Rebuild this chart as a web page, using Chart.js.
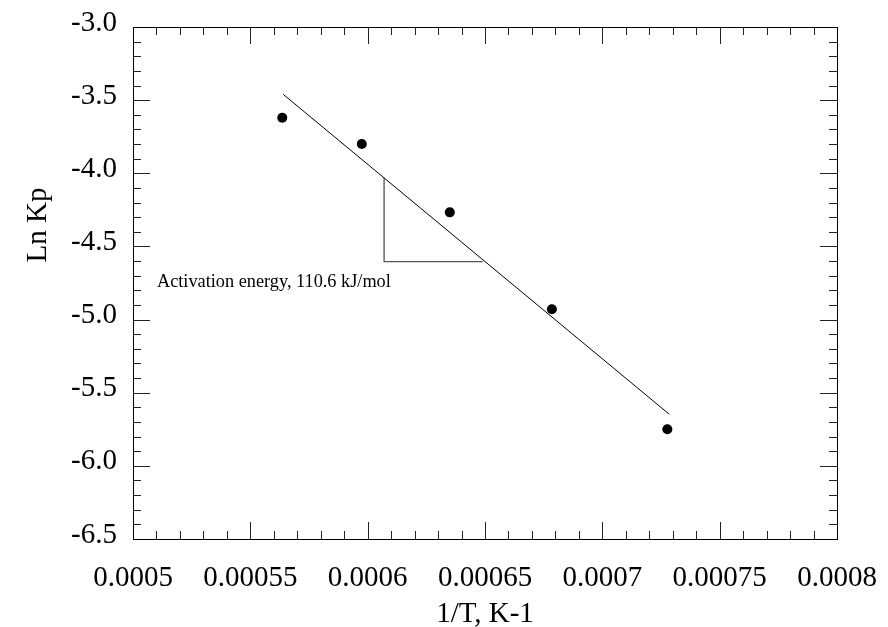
<!DOCTYPE html>
<html>
<head>
<meta charset="utf-8">
<script src="https://cdn.jsdelivr.net/npm/chart.js@4.4.1/dist/chart.umd.min.js"></script>
<style>
  html, body { margin: 0; padding: 0; background: #fff; }
  #wrap { width: 888px; height: 627px; }
</style>
</head>
<body>
<div id="wrap"><canvas id="chart" width="888" height="627"></canvas></div>
<script>
// axis ticks
const xTicks = [0.0005, 0.00055, 0.0006, 0.00065, 0.0007, 0.00075, 0.0008];
const xTickLabels = ['0.0005', '0.00055', '0.0006', '0.00065', '0.0007', '0.00075', '0.0008'];
const yTicks = [-3.0, -3.5, -4.0, -4.5, -5.0, -5.5, -6.0, -6.5];
const yTickLabels = ['-3.0', '-3.5', '-4.0', '-4.5', '-5.0', '-5.5', '-6.0', '-6.5'];

// measured points
const invT = [0.0005636, 0.0005975, 0.000635, 0.0006785, 0.0007277];
const lnKp = [-3.62, -3.80, -4.267, -4.93, -5.75];

// fitted line ends
const fitX = [0.000564, 0.0007285];
const fitY = [-3.46, -5.647];

// slope triangle
const triX = [0.000607, 0.000607, 0.000649];
const triY = [-4.03, -4.604, -4.604];

const noteText = 'Activation energy, 110.6 kJ/mol';
const noteX = 0.0005102;
const noteY = -4.743;

const xTitle = '1/T, K-1';
const yTitle = 'Ln Kp';

const serif = "'Liberation Serif', 'Times New Roman', serif";

const toPts = (xs, ys) => xs.map((x, i) => ({ x: x, y: ys[i] }));

// inward ticks on all four sides, frame, titles and note
const framePlugin = {
    id: 'frame',
    afterDraw(chart) {
        const ctx = chart.ctx;
        const a = chart.chartArea;
        const xs = chart.scales.x;
        const ys = chart.scales.y;
        ctx.save();
        ctx.strokeStyle = '#222';
        ctx.lineWidth = 1;
        ctx.beginPath();
        for (let i = 0; i <= 30; i++) {
            const px = Math.round(xs.getPixelForValue(0.0005 + i * 0.00001)) + 0.5;
            const len = i % 5 === 0 ? 17 : 8;
            ctx.moveTo(px, a.bottom); ctx.lineTo(px, a.bottom - len);
            ctx.moveTo(px, a.top); ctx.lineTo(px, a.top + len);
        }
        for (let i = 0; i <= 35; i++) {
            const py = Math.round(ys.getPixelForValue(-3.0 - i * 0.1)) + 0.5;
            const len = i % 5 === 0 ? 17 : 8;
            ctx.moveTo(a.left, py); ctx.lineTo(a.left + len, py);
            ctx.moveTo(a.right, py); ctx.lineTo(a.right - len, py);
        }
        ctx.stroke();
        ctx.strokeStyle = '#000';
        ctx.strokeRect(Math.round(a.left) + 0.5, Math.round(a.top) + 0.5,
            Math.round(a.right - a.left), Math.round(a.bottom - a.top));

        ctx.fillStyle = '#000';
        ctx.font = '18.3px ' + serif;
        ctx.textAlign = 'left';
        ctx.textBaseline = 'middle';
        ctx.fillText(noteText, xs.getPixelForValue(noteX), ys.getPixelForValue(noteY));

        ctx.font = '29px ' + serif;
        ctx.textAlign = 'center';
        ctx.textBaseline = 'alphabetic';
        ctx.fillText(xTitle, (a.left + a.right) / 2, 622);

        ctx.translate(46, 225);
        ctx.rotate(-Math.PI / 2);
        ctx.fillText(yTitle, 0, 0);
        ctx.restore();
    }
};

new Chart(document.getElementById('chart').getContext('2d'), {
    type: 'scatter',
    data: {
        datasets: [
            {
                label: 'Ln Kp',
                data: toPts(invT, lnKp),
                pointRadius: 5,
                pointBackgroundColor: '#000',
                pointBorderWidth: 0,
                showLine: false
            },
            {
                label: 'fit',
                data: toPts(fitX, fitY),
                showLine: true,
                borderColor: '#000',
                borderWidth: 1,
                pointRadius: 0
            },
            {
                label: 'slope',
                data: toPts(triX, triY),
                showLine: true,
                borderColor: '#555',
                borderWidth: 1.3,
                pointRadius: 0
            }
        ]
    },
    options: {
        responsive: false,
        animation: false,
        devicePixelRatio: 1,
        layout: { padding: { left: 0, top: 27, right: 51, bottom: 0 } },
        plugins: {
            legend: { display: false },
            tooltip: { enabled: false }
        },
        scales: {
            x: {
                type: 'linear',
                min: 0.0005,
                max: 0.0008,
                afterBuildTicks: s => { s.ticks = xTicks.map(v => ({ value: v })); },
                afterFit: s => { s.height = 88; s.paddingLeft = 0; s.paddingRight = 0; },
                grid: { drawOnChartArea: false, drawTicks: false },
                border: { display: false },
                ticks: {
                    callback: (v, i) => xTickLabels[i],
                    color: '#000',
                    font: { family: serif, size: 29 },
                    padding: 22,
                    maxRotation: 0,
                    autoSkip: false
                }
            },
            y: {
                type: 'linear',
                min: -6.5,
                max: -3.0,
                afterBuildTicks: s => { s.ticks = yTicks.map(v => ({ value: v })); },
                afterFit: s => { s.width = 133; s.paddingTop = 0; s.paddingBottom = 0; },
                grid: { drawOnChartArea: false, drawTicks: false },
                border: { display: false },
                ticks: {
                    callback: (v, i) => yTickLabels[i],
                    color: '#000',
                    font: { family: serif, size: 29 },
                    padding: 16,
                    labelOffset: -4,
                    autoSkip: false
                }
            }
        }
    },
    plugins: [framePlugin]
});
</script>
</body>
</html>
